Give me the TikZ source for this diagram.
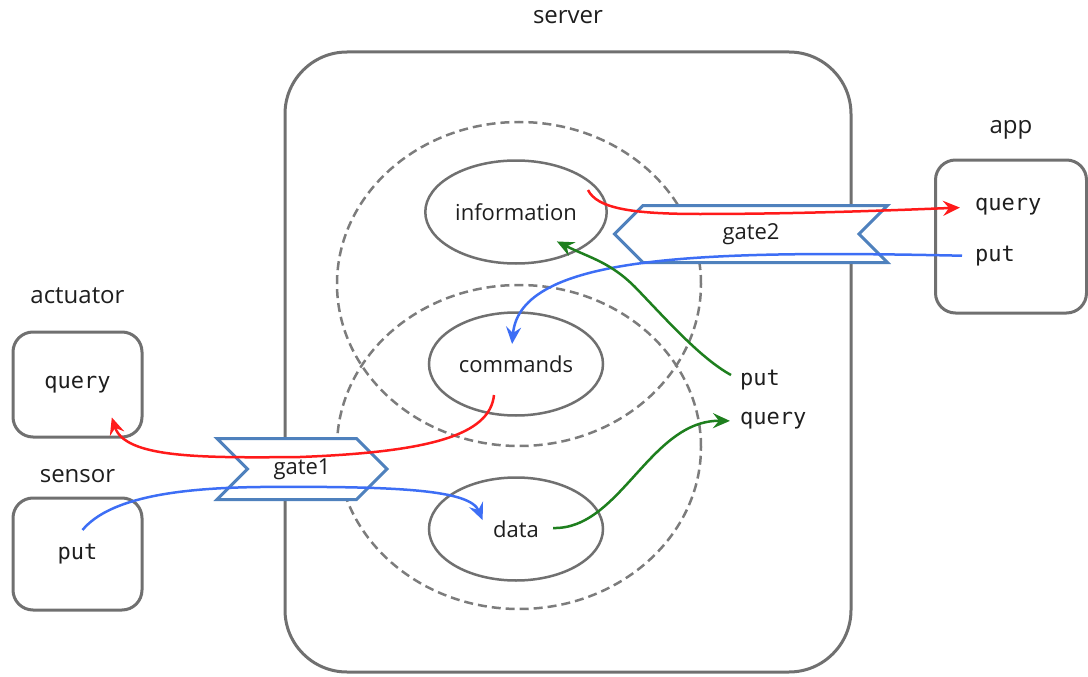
\documentclass[tikz,border=0pt]{standalone}
\usepackage{fontspec}
\setmainfont{Open Sans}
\newfontfamily\portfont{DejaVu Sans Mono}
\usetikzlibrary{arrows.meta,positioning,shapes.geometric,shapes.symbols}
\definecolor{boxgray}{HTML}{707070}
\definecolor{zonegray}{HTML}{7C7C7C}
\definecolor{gateblue}{HTML}{4F81BD}
\definecolor{flowred}{HTML}{FF1A1A}
\definecolor{flowblue}{HTML}{3D6EF5}
\definecolor{flowgreen}{HTML}{1E7F1E}
\definecolor{inktext}{HTML}{1E1E1E}
\tikzset{
    hub/.style={
           rectangle,
           rounded corners=62pt,
           draw=boxgray, line width=3pt,
           },
    device/.style={
           rectangle,
           rounded corners=20pt,
           draw=boxgray, line width=3pt,
           text=inktext,
           font=\portfont\fontsize{22}{26}\selectfont,
           },
    zone/.style={
           ellipse,
           draw=zonegray, line width=2.5pt,
           dash pattern=on 9pt off 5pt,
           minimum width=364pt, minimum height=324pt,
           },
    store/.style={
           ellipse,
           draw=boxgray, line width=2.5pt, fill=white,
           minimum width=174pt, minimum height=103pt,
           text=inktext,
           font=\fontsize{22}{26}\selectfont,
           },
    gate/.style={
           signal, signal pointer angle=90,
           draw=gateblue, line width=3pt, fill=white,
           inner sep=0pt, text=inktext,
           font=\fontsize{22}{26}\selectfont,
           },
    title/.style={
           inner sep=0pt, text depth=0pt, text=inktext,
           font=\fontsize{24}{28}\selectfont,
           },
    port/.style={
           inner sep=0pt, anchor=west, text=inktext,
           font=\portfont\fontsize{22}{26}\selectfont,
           },
    flow/.style={line width=2.5pt},
}

\begin{document}
\begin{tikzpicture}[x=1pt,y=-1pt,>={Stealth[length=17pt,width=15pt,inset=6pt]},shorten >=1pt]
	\useasboundingbox (0,0) rectangle (1088,677);

	\node[hub]  (server) at (568,362) [minimum width=566pt, minimum height=620pt] {};
	\node[title] (servername) [above=27pt of server] {server};

	\node[zone] (upper) at (519,284) {};
	\node[zone] (lower) at (519,447) {};

	\node[store] (info) at (516,212) {information};
	\node[store] (cmds) at (516,364) {commands};
	\node[store] (data) at (516,529) {data};

	\node[gate,signal to=east,signal from=west,minimum width=170pt,minimum height=61pt] (gate1) at (302,469) {gate1};
	\node[gate,signal to=west,signal from=east,minimum width=273pt,minimum height=57pt] (gate2) at (751,234) {gate2};

	\node[device] (act) at (77.5,384.5) [minimum width=129pt, minimum height=105pt] {query};
	\node[title]  (actname) [above=27pt of act] {actuator};
	\node[device] (sen) at (77.5,554) [minimum width=129pt, minimum height=112pt] {put};
	\node[title]  (senname) [above=14pt of sen] {sensor};
	\node[device] (app) at (1011,236.5) [minimum width=151pt, minimum height=153pt] {};
	\node[title]  (appname) [above=25pt of app] {app};

	\node[port] (appq)   at (975,207) {query};
	\node[port] (appp)   at (975,256) {put};
	\node[port] (rput)   at (740,380) {put};
	\node[port] (rquery) at (740,421) {query};

	% commands to the devices
	\draw[->,flow,flowred,shorten >=15pt] ([shift={(-8,4)}]info.18) .. controls (597,208) and (630,214) .. (700,214)
		.. controls (800,214) and (900,210) .. (appq.west);
	\draw[->,flow,flowred] ([shift={(-22,31)}]cmds.center) .. controls (490,435) and (430,452) .. (300,457)
		.. controls (200,458) and (125,458) .. ([shift={(-32,-22)}]act.south east);

	% puts
	\draw[->,flow,flowblue,shorten <=13pt] (appp.west) .. controls (700,250) and (520,255)
		.. ([shift={(-4,-19)}]cmds.center);
	\draw[->,flow,flowblue] ([shift={(5,-24)}]sen.center) .. controls (110,497) and (180,488) .. (260,487)
		.. controls (400,486) and (470,490) .. ([shift={(-33,-8)}]data.center);
	\draw[->,flow,flowgreen] ([shift={(-9,-5)}]rput.west) .. controls (700,358) and (665,318) .. (635,287)
		.. controls (610,262) and (590,258) .. ([shift={(40,29)}]info.center);

	% query
	\draw[->,flow,flowgreen,shorten >=10pt] ([shift={(37,-1)}]data.center) .. controls (620,530) and (650,420)
		.. (rquery.west);
\end{tikzpicture}
\end{document}
